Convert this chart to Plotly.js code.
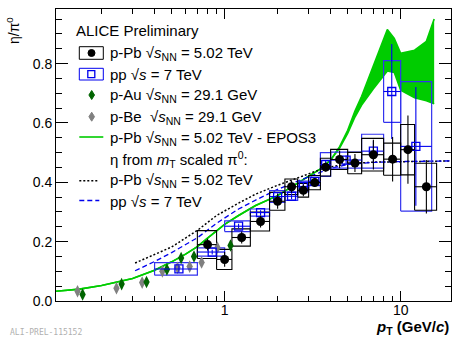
<!DOCTYPE html>
<html><head><meta charset="utf-8">
<script src="https://cdn.plot.ly/plotly-3.0.1.min.js"></script>
<style>html,body{margin:0;padding:0;background:#fff}#plot{width:452px;height:338px}</style>
</head><body><div id="plot"></div>
<script>
// ---- p-Pb sqrt(sNN)=5.02 TeV (black) ----
const ppbPt   = [0.8, 1.0, 1.25, 1.6, 2.0, 2.4, 2.8, 3.25, 3.75, 4.5, 5.5, 7.0, 9.0, 11.0, 14.0];
const ppbLo   = [0.7, 0.9, 1.1, 1.4, 1.8, 2.2, 2.6, 3.0, 3.5, 4.0, 5.0, 6.0, 8.0, 10.0, 12.0];
const ppbHi   = [0.9, 1.1, 1.4, 1.8, 2.2, 2.6, 3.0, 3.5, 4.0, 5.0, 6.0, 8.0, 10.0, 12.0, 16.0];
const ppbVal  = [0.190, 0.140, 0.214, 0.268, 0.336, 0.385, 0.373, 0.399, 0.451, 0.477, 0.465, 0.493, 0.478, 0.510, 0.385];
const ppbStat = [0.020, 0.025, 0.020, 0.020, 0.025, 0.020, 0.020, 0.015, 0.015, 0.030, 0.030, 0.050, 0.075, 0.115, 0.090];
const ppbSys  = [0.047, 0.034, 0.029, 0.032, 0.030, 0.026, 0.023, 0.024, 0.030, 0.034, 0.036, 0.055, 0.054, 0.085, 0.079];

// ---- pp sqrt(s)=7 TeV (blue) ----
const ppPt   = [0.55, 0.85, 1.2, 1.6, 2.0, 2.4, 2.8, 3.25, 3.75, 4.9, 7.0, 8.9, 12.2];
const ppLo   = [0.4, 0.7, 1.0, 1.4, 1.8, 2.2, 2.6, 3.0, 3.5, 4.0, 6.0, 8.0, 10.0];
const ppHi   = [0.7, 1.0, 1.4, 1.8, 2.2, 2.6, 3.0, 3.5, 4.0, 6.0, 8.0, 10.0, 15.0];
const ppVal  = [0.108, 0.165, 0.252, 0.298, 0.352, 0.353, 0.386, 0.403, 0.460, 0.475, 0.505, 0.706, 0.521];
const ppStat = [0.012, 0.008, 0.008, 0.008, 0.010, 0.010, 0.012, 0.012, 0.015, 0.015, 0.035, 0.160, 0.200];
const ppSys  = [0.021, 0.014, 0.018, 0.012, 0.020, 0.014, 0.018, 0.014, 0.040, 0.027, 0.057, 0.104, 0.218];

// ---- p-Au 29.1 GeV (dark green) ----
const auPt  = [0.156, 0.26, 0.36, 0.47, 0.566, 0.67, 1.08];
const auVal = [0.022, 0.057, 0.064, 0.106, 0.145, 0.150, 0.187];
const auErr = [0.008, 0.008, 0.008, 0.008, 0.010, 0.010, 0.012];

// ---- p-Be 29.1 GeV (gray) ----
const bePt  = [0.146, 0.243, 0.34, 0.443, 0.54, 0.633, 0.74, 0.91];
const beVal = [0.033, 0.043, 0.062, 0.100, 0.112, 0.116, 0.130, 0.180];
const beErr = [0.008, 0.008, 0.008, 0.008, 0.008, 0.008, 0.010, 0.012];

// ---- EPOS3 p-Pb (band) ----
const eposPt   = [0.11, 0.15, 0.2, 0.3, 0.4, 0.5, 0.6, 0.7, 0.8, 1.0, 1.2, 1.5, 2.0, 2.5, 3.0, 3.5, 4.0, 4.5, 5.0, 5.5, 6.0, 7.0, 8.4, 9.2, 10.0, 12.0, 14.0, 15.5];
const eposLow  = [0.033, 0.040, 0.052, 0.076, 0.104, 0.132, 0.158, 0.183, 0.212, 0.258, 0.288, 0.322, 0.355, 0.390, 0.418, 0.445, 0.475, 0.515, 0.565, 0.620, 0.660, 0.715, 0.775, 0.770, 0.710, 0.685, 0.675, 0.665];
const eposHigh = [0.033, 0.040, 0.052, 0.076, 0.104, 0.132, 0.158, 0.183, 0.212, 0.258, 0.288, 0.322, 0.355, 0.390, 0.418, 0.445, 0.475, 0.520, 0.575, 0.640, 0.690, 0.795, 0.915, 0.885, 0.835, 0.845, 0.875, 0.950];

// ---- eta from mT-scaled pi0 ----
const mtPt     = [0.31, 0.4, 0.5, 0.7, 0.9, 1.2, 1.5, 2.0, 2.5, 3.0, 3.5, 4.0, 5.0, 7.0, 10.0, 15.0, 19.5];
const mtPPbVal = [0.128, 0.157, 0.182, 0.238, 0.288, 0.330, 0.360, 0.390, 0.412, 0.430, 0.443, 0.452, 0.462, 0.468, 0.470, 0.472, 0.472];
const mtPPVal  = [0.102, 0.133, 0.163, 0.213, 0.262, 0.310, 0.340, 0.376, 0.400, 0.418, 0.435, 0.447, 0.460, 0.467, 0.470, 0.472, 0.472];

const yTickVals = [0, 0.2, 0.4, 0.6, 0.8];
const xTickVals = [1, 10];
const xTickText = ['1', '10'];

// ---------- helpers ----------
function boxes(pt, lo, hi, v, s) {
  const x = [], y = [];
  for (let i = 0; i < pt.length; i++) {
    x.push(lo[i], hi[i], hi[i], lo[i], lo[i], null);
    y.push(v[i] - s[i], v[i] - s[i], v[i] + s[i], v[i] + s[i], v[i] - s[i], null);
  }
  return {x, y};
}
const FONT = 'Liberation Sans, Arial, Helvetica, sans-serif';
const GREEN = '#00cc00';
const BLUE = '#0000ee';

const bPPb = boxes(ppbPt, ppbLo, ppbHi, ppbVal, ppbSys);
const bPP  = boxes(ppPt, ppLo, ppHi, ppVal, ppSys);

const traces = [
  {x: eposPt, y: eposLow, mode: 'lines', line: {color: GREEN, width: 1.6}, hoverinfo: 'skip'},
  {x: eposPt, y: eposHigh, mode: 'lines', fill: 'tonexty', fillcolor: GREEN, line: {color: GREEN, width: 1.6}, hoverinfo: 'skip'},
  {x: mtPt, y: mtPPbVal, mode: 'lines', line: {color: '#000', width: 1.5, dash: '2px,2px'}},
  {x: mtPt, y: mtPPVal, mode: 'lines', line: {color: BLUE, width: 1.3, dash: '5px,3px'}},
  {x: bPP.x, y: bPP.y, mode: 'lines', line: {color: '#3333ee', width: 1.2}, connectgaps: false},
  {x: bPPb.x, y: bPPb.y, mode: 'lines', line: {color: '#000', width: 1.1}, connectgaps: false},
  {x: bePt, y: beVal, mode: 'markers', marker: {symbol: 'diamond-tall', size: 9, color: '#808080'},
   error_y: {type: 'data', array: beErr, color: '#808080', thickness: 1.5, width: 0}},
  {x: auPt, y: auVal, mode: 'markers', marker: {symbol: 'diamond-tall', size: 9, color: '#006400'},
   error_y: {type: 'data', array: auErr, color: '#006400', thickness: 1.5, width: 0}},
  {x: ppPt, y: ppVal, mode: 'markers', marker: {symbol: 'square-open', size: 8, color: BLUE, line: {width: 1.3, color: BLUE}},
   error_y: {type: 'data', array: ppStat, color: BLUE, thickness: 1.1, width: 0},
   error_x: {type: 'data', array: ppHi.map((h, i) => h - ppPt[i]), arrayminus: ppLo.map((l, i) => ppPt[i] - l), color: BLUE, thickness: 1.1, width: 0}},
  {x: ppbPt, y: ppbVal, mode: 'markers', marker: {symbol: 'circle', size: 9, color: '#000'},
   error_y: {type: 'data', array: ppbStat, color: '#000', thickness: 1.1, width: 0},
   error_x: {type: 'data', array: ppbHi.map((h, i) => h - ppbPt[i]), arrayminus: ppbLo.map((l, i) => ppbPt[i] - l), color: '#000', thickness: 1.1, width: 0}}
];

// pixel -> paper helpers for legend / labels
const W = 452, H = 338, ML = 56, MR = 1, MT = 9, MB = 37;
const PX = p => (p - ML) / (W - ML - MR);
const PY = p => (H - MB - p) / (H - MT - MB);

const shapes = [];
const annotations = [];
function rect(x0, x1, y0, y1, color, fill, w) {
  shapes.push({type: 'rect', xref: 'paper', yref: 'paper', x0: PX(x0), x1: PX(x1), y0: PY(y1), y1: PY(y0),
    line: {color: color, width: w || 1}, fillcolor: fill || 'rgba(0,0,0,0)'});
}
function hline(x0, x1, y, color, dash, w) {
  shapes.push({type: 'line', xref: 'paper', yref: 'paper', x0: PX(x0), x1: PX(x1), y0: PY(y), y1: PY(y),
    line: {color: color, width: w, dash: dash}});
}
function diamond(cx, cy, color) {
  const p = `M ${PX(cx)} ${PY(cy - 4.5)} L ${PX(cx + 2.8)} ${PY(cy)} L ${PX(cx)} ${PY(cy + 4.5)} L ${PX(cx - 2.8)} ${PY(cy)} Z`;
  shapes.push({type: 'path', xref: 'paper', yref: 'paper', path: p, fillcolor: color, line: {color: color, width: 1}});
}
function text(x, y, t, opts) {
  annotations.push(Object.assign({xref: 'paper', yref: 'paper', x: PX(x), y: PY(y), text: t, showarrow: false,
    xanchor: 'left', yanchor: 'middle', font: {family: FONT, size: 15, color: '#000'}}, opts || {}));
}

// legend symbols
rect(79.3, 103.3, 46.7, 59.3, '#000', null, 1);
shapes.push({type: 'circle', xref: 'paper', yref: 'paper', x0: PX(88), x1: PX(95), y0: PY(56.5), y1: PY(49.5), fillcolor: '#000', line: {color: '#000', width: 1}});
rect(79.3, 103.3, 68.3, 80, BLUE, null, 1);
rect(87.8, 94.8, 70.6, 77.6, BLUE, '#fff', 1.3);
diamond(91.7, 95, '#006400');
diamond(91.7, 116.7, '#808080');
hline(79.3, 103.3, 137, GREEN, 'solid', 1.6);
hline(79.3, 99.3, 180.7, '#000', '2px,2px', 1.5);
hline(79.3, 99.3, 200.5, BLUE, '5px,3px', 1.3);

// legend text
const SQ = '\u221A';
text(73.5, 31, 'ALICE Preliminary');
text(107.5, 53, 'p-Pb ' + SQ + '<i>s</i><sub>NN</sub> = 5.02 TeV');
text(107.5, 74, 'pp ' + SQ + '<i>s</i> = 7 TeV');
text(107.5, 95.5, 'p-Au ' + SQ + '<i>s</i><sub>NN</sub> = 29.1 GeV');
text(107.5, 117, 'p-Be  ' + SQ + '<i>s</i><sub>NN</sub> = 29.1 GeV');
text(107.5, 138, 'p-Pb ' + SQ + '<i>s</i><sub>NN</sub> = 5.02 TeV - EPOS3');
text(107.5, 159, '\u03B7 from <i>m</i><sub>T</sub> scaled \u03C0<sup>0</sup>:');
text(107.5, 180.5, 'p-Pb ' + SQ + '<i>s</i><sub>NN</sub> = 5.02 TeV');
text(107.5, 201, 'pp ' + SQ + '<i>s</i> = 7 TeV');

// axis titles
text(13, 31, '\u03B7/\u03C0<sup>0</sup>', {xanchor: 'center', yanchor: 'middle', textangle: -90, font: {family: FONT, size: 14, color: '#000'}});
text(451, 327, '<b><i>p</i><sub>T</sub> (GeV/<i>c</i>)</b>', {xanchor: 'right', font: {family: FONT, size: 15, color: '#000'}});
// preliminary id
text(8, 332, 'ALI-PREL-115152', {font: {family: 'DejaVu Sans Mono, monospace', size: 8, color: '#b0b0b0'}});

const layout = {
  width: W, height: H,
  margin: {l: ML, r: MR, t: MT, b: MB, pad: 0},
  paper_bgcolor: '#fff', plot_bgcolor: '#fff',
  showlegend: false,
  font: {family: FONT, size: 14, color: '#000'},
  xaxis: {type: 'log', range: [-0.958, 1.286], tickvals: xTickVals, ticktext: xTickText,
    ticks: 'inside', ticklen: 10, tickwidth: 1, tickcolor: '#000', ticklabelstandoff: -4,
    showline: true, linecolor: '#000', linewidth: 1, mirror: 'allticks',
    showgrid: false, zeroline: false, tickfont: {family: FONT, size: 14, color: '#000'},
    minor: {ticks: 'inside', ticklen: 5, dtick: 'D1', tickcolor: '#000', showgrid: false}},
  yaxis: {range: [0, 0.984], tickvals: yTickVals, tickformat: '.1f',
    ticks: 'inside', ticklen: 12, tickwidth: 1, tickcolor: '#000',
    showline: true, linecolor: '#000', linewidth: 1, mirror: 'allticks',
    showgrid: false, zeroline: false, tickfont: {family: FONT, size: 14, color: '#000'},
    minor: {ticks: 'inside', ticklen: 6, dtick: 0.05, tick0: 0, tickcolor: '#000', showgrid: false}},
  shapes: shapes,
  annotations: annotations
};

Plotly.newPlot('plot', traces, layout, {staticPlot: true, displayModeBar: false});
</script>
</body></html>
